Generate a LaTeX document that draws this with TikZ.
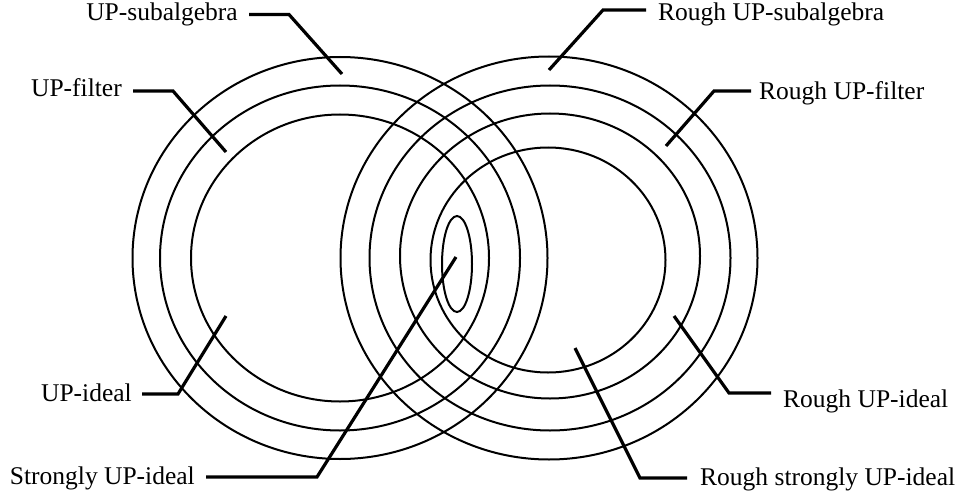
\documentclass[tikz,border=0pt]{standalone}
\usepackage{fontspec}
\setmainfont{Liberation Serif}
\usetikzlibrary{calc}
\begin{document}
\begin{tikzpicture}[x=1pt,y=-1pt,
  ring/.style={line width=2pt},
  leader/.style={line width=3.2pt},
  lbl/.style={inner sep=0pt,font=\fontsize{25.5}{30}\selectfont}]
\useasboundingbox (0,0) rectangle (966,500);
% left family
\draw[ring] (340,258) ellipse [x radius=207.5pt, y radius=201pt];
\draw[ring] (340,258) ellipse [x radius=180pt, y radius=172.5pt];
\draw[ring] (340,258) ellipse [x radius=149pt, y radius=143.5pt];
% right family
\draw[ring] (549,258) ellipse [x radius=208.5pt, y radius=201.5pt];
\draw[ring] (550,258) ellipse [x radius=180.5pt, y radius=172.5pt];
\draw[ring] (550,256) ellipse [x radius=150pt, y radius=142.5pt];
\draw[ring] (548,260) ellipse [x radius=117.5pt, y radius=112.5pt];
% small ellipse
\draw[ring] (457,264) ellipse [x radius=15pt, y radius=48pt];
% labels (placed by baseline)
\node[lbl,anchor=base east] (tsub) at (238,21) {UP-subalgebra};
\node[lbl,anchor=base east] (tfil) at (122,97) {UP-filter};
\node[lbl,anchor=base east] (tide) at (132,401) {UP-ideal};
\node[lbl,anchor=base east] (tstr) at (195,484) {Strongly UP-ideal};
\node[lbl,anchor=base west] (trsub) at (658,21) {Rough UP-subalgebra};
\node[lbl,anchor=base west] (trfil) at (759,100) {Rough UP-filter};
\node[lbl,anchor=base west] (trid) at (783,407) {Rough UP-ideal};
\node[lbl,anchor=base west] (trstr) at (700,485) {Rough strongly UP-ideal};
% leader bend and end points
\coordinate (bsub) at (289,14.5); \coordinate (esub) at (342,74);
\coordinate (bfil) at (173,91);   \coordinate (efil) at (226,152);
\coordinate (bide) at (178,394);  \coordinate (eide) at (226,316);
\coordinate (bstr) at (317,477);  \coordinate (estr) at (456,257);
\coordinate (brsub) at (603,10);  \coordinate (ersub) at (549,70);
\coordinate (brfil) at (714,91);  \coordinate (erfil) at (666,146);
\coordinate (brid) at (729,393);  \coordinate (erid) at (674,316);
\coordinate (brstr) at (640,478); \coordinate (erstr) at (575,348);
% leaders
\draw[leader] ($(tsub.east |- bsub)+(11,0)$) -- (bsub) -- (esub);
\draw[leader] ($(tfil.east |- bfil)+(11,0)$) -- (bfil) -- (efil);
\draw[leader] ($(tide.east |- bide)+(10,0)$) -- (bide) -- (eide);
\draw[leader] ($(tstr.east |- bstr)+(11,0)$) -- (bstr) -- (estr);
\draw[leader] ($(trsub.west |- brsub)+(-12,0)$) -- (brsub) -- (ersub);
\draw[leader] ($(trfil.west |- brfil)+(-8,0)$) -- (brfil) -- (erfil);
\draw[leader] ($(trid.west |- brid)+(-12,0)$) -- (brid) -- (erid);
\draw[leader] ($(trstr.west |- brstr)+(-13,0)$) -- (brstr) -- (erstr);
\end{tikzpicture}
\end{document}
